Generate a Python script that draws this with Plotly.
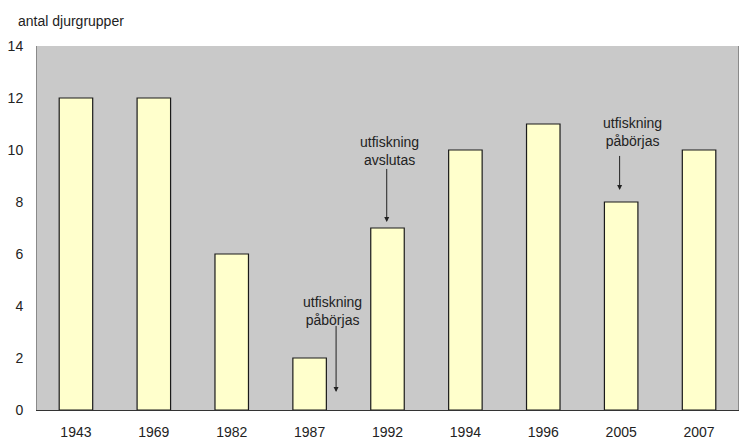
import plotly.graph_objects as go

years = ["1943", "1969", "1982", "1987", "1992", "1994", "1996", "2005", "2007"]
groups = [12, 12, 6, 2, 7, 10, 11, 8, 10]
y_ticks = [0, 2, 4, 6, 8, 10, 12, 14]

# annotation notes: label text, text position, arrow tail and head (category index, value)
note_texts = ["utfiskning<br>påbörjas", "utfiskning<br>avslutas", "utfiskning<br>påbörjas"]
note_text_x = [3.30, 4.03, 7.14]
note_text_y = [3.81, 9.98, 10.71]
arrow_x = [3.34, 3.99, 6.98]
arrow_tail_y = [3.27, 9.31, 9.81]
arrow_head_y = [0.69, 7.23, 8.46]

fig = go.Figure()
fig.add_trace(go.Bar(
    x=years, y=groups, width=0.43,
    marker=dict(color="#ffffcc", line=dict(color="#1a1a1a", width=1.2)),
    hoverinfo="x+y",
))

font = dict(family="Liberation Sans, Arial, sans-serif", size=14, color="#222222")

for t, tx, ty in zip(note_texts, note_text_x, note_text_y):
    fig.add_annotation(xref="x", yref="y", x=tx, y=ty, text=t, showarrow=False,
                       font=font, align="center")

for x, yt, yh in zip(arrow_x, arrow_tail_y, arrow_head_y):
    fig.add_annotation(
        xref="x", yref="y", x=x, y=yh, axref="x", ayref="y", ax=x, ay=yt,
        text=" ", font=dict(size=1), borderpad=0,
        showarrow=True, arrowhead=2, arrowsize=1, arrowwidth=1, arrowcolor="#222222",
    )

fig.add_annotation(
    xref="paper", yref="paper", x=-0.03, y=1.0, yshift=25, xanchor="left", yanchor="middle",
    text="antal djurgrupper", showarrow=False, font=font,
)

fig.update_layout(
    width=754, height=440,
    margin=dict(l=37, r=16, t=46, b=30),
    paper_bgcolor="#ffffff",
    plot_bgcolor="#c9c9c9",
    showlegend=False,
    font=font,
    bargap=0.57,
    xaxis=dict(
        type="category", range=[-0.5, 8.5], showgrid=False, automargin=False,
        showline=True, linecolor="#333333", linewidth=1, mirror=False,
        ticks="", tickfont=font, ticklabelstandoff=9,
    ),
    yaxis=dict(
        range=[0, 14], tickvals=y_ticks, showgrid=False, zeroline=False, automargin=False,
        showline=True, linecolor="#8a8a8a", linewidth=1, mirror=True,
        ticks="", tickfont=font, ticklabelstandoff=10,
    ),
)

fig.write_html("out.html")
